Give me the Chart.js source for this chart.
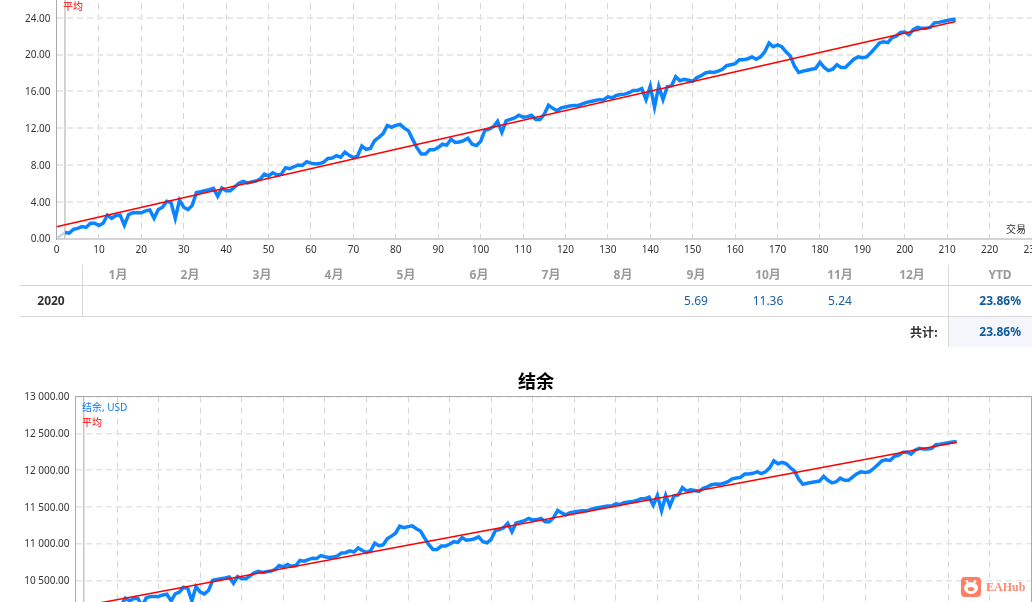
<!DOCTYPE html>
<html lang="zh"><head><meta charset="utf-8">
<script src="https://cdn.jsdelivr.net/npm/chart.js@4"></script>
<style>
html,body{margin:0;padding:0;background:#fff;width:1032px;height:602px;overflow:hidden}
body{position:relative;font-family:"Noto Sans","Noto Sans CJK SC",sans-serif}
canvas{position:absolute;left:0}
.t{position:absolute;white-space:nowrap;line-height:14px;height:14px}
.c{transform:translateX(-50%)}
.m{font-size:12px;font-weight:700;color:#9a9a9a;top:268px}
.v{font-size:12px;color:#1a5fa8;top:294px}
.y{font-size:12px;font-weight:700;color:#0d5a9e;right:11px}
.l{position:absolute;background:#d8d8d8}
.leg{font-size:10px;position:absolute;white-space:nowrap;line-height:12px}
</style></head><body>
<canvas id="growthChart" width="1072" height="300" style="top:-40px"></canvas>
<canvas id="balanceChart" width="1072" height="280" style="top:360px"></canvas>

<div class="leg" style="left:63px;top:0;color:#f00">平均</div>
<div class="leg" style="left:1006px;top:223px;color:#333">交易</div>
<div style="position:absolute;left:536px;top:369px;transform:translateX(-50%);font:700 18px/22px 'Noto Sans CJK SC',sans-serif;color:#000">结余</div>
<div class="leg" style="left:82px;top:401px;color:#0a7df0">结余, USD</div>
<div class="leg" style="left:82px;top:416px;color:#f00">平均</div>

<div id="table"></div>

<div style="position:absolute;left:961px;top:577px;width:20px;height:20px;border-radius:4px;background:#ff7f66">
<svg width="20" height="20" viewBox="0 0 20 20"><circle cx="6" cy="4.5" r="1.4" fill="#fff"/><circle cx="14" cy="4.5" r="1.4" fill="#fff"/><ellipse cx="10" cy="11" rx="7" ry="6" fill="#fff"/><ellipse cx="10" cy="12" rx="3.4" ry="2" fill="#ff7f66"/></svg></div>
<div style="position:absolute;left:986px;top:579px;font:700 12px/16px 'Liberation Serif',serif;color:#ff8a73">EAHub</div>

<script>
const monthLabels = ["1月","2月","3月","4月","5月","6月","7月","8月","9月","10月","11月","12月"];
const monthCenters = [118,190,262,334,406,479,551,623,696,768,840,912];
const yearLabel = "2020";
const monthValues = {8:"5.69",9:"11.36",10:"5.24"};
const ytdValue = "23.86%";
const firstTrade = 2;
const xTicks = [0,10,20,30,40,50,60,70,80,90,100,110,120,130,140,150,160,170,180,190,200,210,220,230];

const growth = [
 .65,.58,1.0,1.1,1.3,1.2,1.65,1.65,
 1.4,1.65,2.55,2.2,2.5,2.55,1.45,2.6,2.8,2.8,
 2.8,3.0,3.1,2.2,3.15,3.4,4.05,3.9,2.2,4.15,
 3.4,3.15,3.6,5.0,5.1,5.2,5.3,5.45,4.6,5.5,
 5.2,5.2,5.6,6.0,6.2,6.05,6.15,6.25,6.45,7.0,
 6.8,7.15,6.9,7.0,7.7,7.6,7.8,8.0,7.95,8.35,
 8.2,8.1,8.15,8.3,8.7,8.75,9.0,8.85,9.4,9.05,
 8.8,9.0,10.05,9.7,9.8,10.65,11.0,11.4,12.3,12.1,
 12.3,12.4,12.0,11.7,10.75,9.85,9.2,9.2,9.65,9.65,
 9.9,10.25,10.15,10.8,10.45,10.5,10.65,10.9,10.25,10.1,
 10.55,11.75,11.9,12.15,12.75,11.55,12.8,12.95,13.1,13.4,
 13.2,13.25,13.4,12.95,12.95,13.5,14.5,14.15,13.9,14.2,
 14.3,14.4,14.45,14.45,14.65,14.8,14.9,15.0,15.1,15.1,
 15.4,15.3,15.55,15.65,15.7,15.85,16.1,16.1,16.3,15.1,
 16.55,14.3,16.55,15.1,16.5,16.6,17.6,17.15,17.3,17.2,
 17.1,17.5,17.7,18.0,18.1,18.05,18.2,18.4,18.8,18.9,
 19.0,19.45,19.45,19.55,19.75,19.5,19.75,20.3,21.25,20.85,
 21.05,20.85,20.3,19.85,18.75,18.05,18.2,18.3,18.4,18.5,
 19.15,18.6,18.25,18.4,18.9,18.6,18.6,19.05,19.5,19.75,
 19.65,19.75,20.2,20.7,21.25,21.4,21.3,21.85,22.0,22.4,
 22.45,22.15,22.7,22.95,22.85,22.85,22.95,23.45,23.5,23.6,
 23.7,23.8,23.86];
const growthAverage = [{x:0,y:1.28},{x:212,y:23.6}];
const growthLead = [{x:0,y:0},{x:2,y:0.65}];

const balance = [
 10065,10058,10100,10110,10130,10120,10165,10165,
 10140,10165,10255,10220,10250,10255,10145,10260,10280,10280,
 10280,10300,10310,10220,10315,10340,10405,10390,10220,10415,
 10340,10315,10360,10500,10510,10520,10530,10545,10460,10550,
 10520,10520,10560,10600,10620,10605,10615,10625,10645,10700,
 10680,10715,10690,10700,10770,10760,10780,10800,10795,10835,
 10820,10810,10815,10830,10870,10875,10900,10885,10940,10905,
 10880,10900,11005,10970,10980,11065,11100,11140,11235,11215,
 11230,11240,11200,11170,11075,10985,10920,10920,10965,10965,
 10990,11025,11015,11080,11045,11050,11065,11090,11025,11010,
 11055,11175,11190,11215,11275,11160,11280,11295,11310,11340,
 11320,11325,11340,11295,11295,11350,11450,11415,11390,11420,
 11430,11440,11445,11445,11465,11480,11490,11500,11510,11510,
 11540,11530,11555,11565,11570,11585,11610,11610,11630,11520,
 11655,11445,11655,11510,11650,11660,11760,11715,11730,11720,
 11710,11750,11770,11800,11810,11805,11820,11840,11880,11890,
 11900,11945,11945,11955,11975,11950,11975,12030,12125,12085,
 12105,12085,12030,11985,11875,11805,11820,11830,11840,11850,
 11915,11860,11825,11840,11890,11860,11860,11905,11950,11975,
 11965,11975,12020,12070,12125,12140,12130,12185,12200,12240,
 12245,12215,12270,12295,12285,12285,12295,12345,12350,12360,
 12370,12380,12386];
const balanceAverage = [{x:0,y:10130},{x:212,y:12378}];
const balanceLead = [{x:0,y:10000},{x:2,y:10065}];

const toPoints = arr => arr.map((v,i)=>({x:i+firstTrade,y:v}));
const FONT = "'Noto Sans','Noto Sans CJK SC',sans-serif";

const framePlugin = {
  id:'frame',
  afterDraw(c,_a,o){
    if(!o.show) return;
    const a=c.chartArea,x=c.ctx;
    x.save();x.strokeStyle='#aaa';x.lineWidth=1;x.beginPath();
    x.moveTo(a.left,Math.floor(a.top)+.5);x.lineTo(Math.floor(a.right)+.5,Math.floor(a.top)+.5);
    x.lineTo(Math.floor(a.right)+.5,a.bottom);x.stroke();x.restore();
  }
};

function build(id,opt){
  return new Chart(document.getElementById(id),{
    type:'line',
    data:{datasets:[
      {label:'平均',data:opt.avg,borderColor:'#ff0000',borderWidth:1.6,pointRadius:0,tension:0,order:1},
      {label:opt.name,data:toPoints(opt.values),borderColor:'#0a84ff',borderWidth:3.5,pointRadius:0,tension:0,borderJoinStyle:'miter',order:2},
      {label:'',data:opt.lead,borderColor:'#c4d6ec',borderWidth:2.5,pointRadius:0,tension:0,order:3},
      {label:'',data:[{x:firstTrade,y:opt.min},{x:firstTrade,y:opt.max}],borderColor:'#a8a8a8',borderWidth:1,pointRadius:0,order:4}
    ]},
    options:{
      responsive:false,animation:false,devicePixelRatio:1,
      layout:{padding:opt.padding},
      plugins:{legend:{display:false},tooltip:{enabled:false},title:{display:false},frame:{show:opt.frame}},
      scales:{
        x:{type:'linear',min:0,max:230,
          afterBuildTicks:s=>{s.ticks=xTicks.map(v=>({value:v}));},
          afterFit:s=>{s.height=20;},
          grid:{color:'#d6d6d6',lineWidth:1,drawTicks:false},
          border:{color:opt.xBorder,width:opt.xBorderW,dash:[6,5]},
          ticks:{autoSkip:false,maxRotation:0,padding:6,color:'#333',font:{family:FONT,size:10},callback:v=>String(v)}},
        y:{min:opt.min,max:opt.max,
          afterFit:s=>{s.width=opt.yWidth;},
          grid:{color:opt.yGridC,lineWidth:opt.yGridW,drawTicks:false},
          border:{color:'#aaa',width:1,dash:[6,4]},
          ticks:{stepSize:opt.step,padding:6,labelOffset:1,color:'#333',font:{family:FONT,size:10},callback:opt.fmt}}
      }
    },
    plugins:[framePlugin]
  });
}

build('growthChart',{name:'增长',values:growth,avg:growthAverage,lead:growthLead,min:0,max:28,step:4,
  padding:{top:21,bottom:1.5,left:0,right:40},yWidth:56.5,yGridW:2,yGridC:'#e8e8e8',xBorder:'#d4d4d4',xBorderW:2,frame:false,
  fmt:v=>Number(v).toFixed(2)});
build('balanceChart',{name:'结余, USD',values:balance,avg:balanceAverage,lead:balanceLead,min:10000,max:13000,step:500,
  padding:{top:36.5,bottom:3,left:0,right:40.5},yWidth:75.5,yGridW:1.5,yGridC:'#e4e4e4',xBorder:'#aaa',xBorderW:1,frame:true,
  fmt:v=>{const s=Number(v).toFixed(2);return s.slice(0,-6)+' '+s.slice(-6);}});

// results table
const T=document.getElementById('table');
function add(cls,txt,css){const d=document.createElement('div');d.className=cls;d.textContent=txt;d.style.cssText=css;T.appendChild(d);}
function line(css){const d=document.createElement('div');d.className='l';d.style.cssText=css;T.appendChild(d);}
const cyan=document.createElement('div');cyan.style.cssText='position:absolute;left:949px;top:317px;width:83px;height:30px;background:#f4f6fb';T.appendChild(cyan);
line('left:20px;top:285px;width:1012px;height:1px');
line('left:20px;top:316px;width:1012px;height:1px');
line('left:82px;top:265px;width:1px;height:51px');
line('left:948px;top:265px;width:1px;height:82px');
monthLabels.forEach((m,i)=>{
  add('t c m',m,'left:'+monthCenters[i]+'px');
  if(monthValues[i]) add('t c v',monthValues[i],'left:'+monthCenters[i]+'px');
});
add('t c m','YTD','left:1000px');
add('t c',yearLabel,'left:51px;top:294px;font-size:12px;font-weight:700;color:#333');
add('t y',ytdValue,'top:294px');
add('t y',ytdValue,'top:325px');
add('t','共计:','right:94px;top:325px;font-size:12px;font-weight:700;color:#333;font-family:"Noto Sans CJK SC",sans-serif');
</script>
</body></html>
